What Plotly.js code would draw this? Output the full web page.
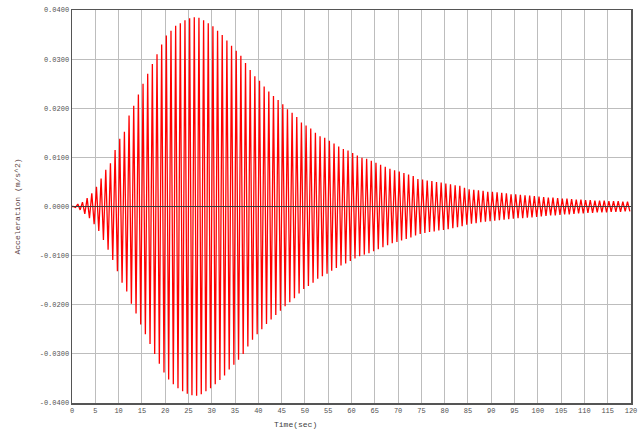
<!DOCTYPE html>
<html>
<head>
<meta charset="utf-8">
<script src="https://cdn.plot.ly/plotly-3.0.1.min.js"></script>
<style>html,body{margin:0;padding:0;background:#fff;}#chart{width:643px;height:430px;}</style>
</head>
<body>
<div id="chart"></div>
<script>
// Oscillation: one cycle per second (period ~1.0 s)
const periodSec = 1.0;
const peakPhase = 0.25;   // positive peak position within each cycle
const troughPhase = 0.75; // negative peak position within each cycle

// Positive peak of each cycle (m/s^2), cycle k = 0..119
const upperPeaks = [
  0.0000,0.0005,0.0009,0.0017,0.0027,0.0040,0.0057,0.0075,0.0088,0.0115,
  0.0138,0.0152,0.0185,0.0205,0.0228,0.0250,0.0270,0.0290,0.0310,0.0330,
  0.0348,0.0358,0.0368,0.0373,0.0379,0.0383,0.0385,0.0384,0.0379,0.0373,
  0.0367,0.0358,0.0349,0.0338,0.0327,0.0317,0.0307,0.0292,0.0278,0.0265,
  0.0256,0.0244,0.0234,0.0225,0.0217,0.0208,0.0198,0.0191,0.0182,0.0171,
  0.0165,0.0159,0.0150,0.0143,0.0140,0.0134,0.0128,0.0122,0.0117,0.0114,
  0.0109,0.0104,0.0099,0.0097,0.0093,0.0089,0.0085,0.0081,0.0077,0.0074,
  0.0071,0.0068,0.0065,0.0062,0.0056,0.0055,0.0053,0.0052,0.0050,0.0049,
  0.0047,0.0045,0.0043,0.0042,0.0038,0.0035,0.0034,0.0033,0.0032,0.0030,
  0.0030,0.0029,0.0028,0.0027,0.0025,0.0025,0.0024,0.0023,0.0022,0.0021,
  0.0020,0.0019,0.0018,0.0018,0.0017,0.0016,0.0016,0.0015,0.0014,0.0014,
  0.0013,0.0013,0.0012,0.0012,0.0012,0.0011,0.0011,0.0011,0.0010,0.0010
];

// Negative peak of each cycle (m/s^2), cycle k = 0..119
const lowerPeaks = [
  -0.0002,-0.0007,-0.0015,-0.0024,-0.0036,-0.0050,-0.0068,-0.0088,-0.0109,-0.0132,
  -0.0155,-0.0173,-0.0198,-0.0218,-0.0240,-0.0260,-0.0280,-0.0300,-0.0320,-0.0338,
  -0.0352,-0.0362,-0.0370,-0.0376,-0.0381,-0.0384,-0.0385,-0.0382,-0.0376,-0.0370,
  -0.0362,-0.0353,-0.0344,-0.0332,-0.0322,-0.0312,-0.0300,-0.0285,-0.0271,-0.0260,
  -0.0250,-0.0239,-0.0230,-0.0221,-0.0212,-0.0203,-0.0195,-0.0187,-0.0177,-0.0168,
  -0.0162,-0.0155,-0.0147,-0.0142,-0.0137,-0.0131,-0.0125,-0.0120,-0.0116,-0.0111,
  -0.0106,-0.0101,-0.0098,-0.0095,-0.0091,-0.0087,-0.0083,-0.0079,-0.0075,-0.0072,
  -0.0069,-0.0066,-0.0063,-0.0059,-0.0056,-0.0054,-0.0052,-0.0051,-0.0049,-0.0048,
  -0.0046,-0.0044,-0.0042,-0.0040,-0.0037,-0.0035,-0.0034,-0.0032,-0.0031,-0.0030,
  -0.0029,-0.0028,-0.0027,-0.0026,-0.0025,-0.0024,-0.0024,-0.0023,-0.0022,-0.0021,
  -0.0020,-0.0019,-0.0018,-0.0018,-0.0017,-0.0016,-0.0016,-0.0015,-0.0014,-0.0014,
  -0.0013,-0.0013,-0.0012,-0.0012,-0.0012,-0.0011,-0.0011,-0.0011,-0.0010,-0.0010
];

const yTickVals = [-0.04,-0.03,-0.02,-0.01,0,0.01,0.02,0.03,0.04];
const yTickText = ["-0.0400","-0.0300","-0.0200","-0.0100","0.0000","0.0100","0.0200","0.0300","0.0400"];
const xTickVals = [0,5,10,15,20,25,30,35,40,45,50,55,60,65,70,75,80,85,90,95,100,105,110,115,120];
const xTickText = xTickVals.map(String);

const xs = [0], ys = [0];
for (let k = 0; k < upperPeaks.length; k++) {
  xs.push((k + peakPhase) * periodSec); ys.push(upperPeaks[k]);
  xs.push((k + troughPhase) * periodSec); ys.push(lowerPeaks[k]);
}

const tickFont = {family: 'Liberation Mono, DejaVu Sans Mono, monospace', size: 7, color: '#505050'};

const data = [{
  x: xs, y: ys, type: 'scatter', mode: 'lines',
  line: {color: '#ff0000', width: 1.3}, hoverinfo: 'skip'
}];

const layout = {
  width: 643, height: 430,
  margin: {l: 72, r: 12, t: 10, b: 27, pad: 0},
  paper_bgcolor: '#ffffff', plot_bgcolor: '#ffffff',
  showlegend: false,
  xaxis: {
    range: [0, 120], tickvals: xTickVals, ticktext: xTickText,
    showgrid: true, gridcolor: '#bdbdbd', gridwidth: 1,
    zeroline: false, showline: true, linecolor: '#555555', linewidth: 1.5, mirror: true,
    ticks: '', ticklen: 0, tickfont: tickFont
  },
  yaxis: {
    range: [-0.04, 0.04], tickvals: yTickVals, ticktext: yTickText,
    showgrid: true, gridcolor: '#bdbdbd', gridwidth: 1,
    zeroline: false, showline: true, linecolor: '#555555', linewidth: 1.5, mirror: true,
    ticks: '', ticklen: 0, tickfont: tickFont,
    title: {text: 'Acceleration (m/s^2)', font: {family: 'Liberation Mono, monospace', size: 8, color: '#5a4040'}, standoff: 18}
  },
  shapes: [{
    type: 'line', xref: 'paper', yref: 'y', x0: 0, x1: 1, y0: 0, y1: 0,
    line: {color: '#3a3a3a', width: 1}, layer: 'above'
  }],
  annotations: [{
    text: 'Time(sec)', xref: 'paper', yref: 'paper', x: 0.4, y: 0, yshift: -21,
    xanchor: 'center', yanchor: 'middle', showarrow: false,
    font: {family: 'Liberation Mono, monospace', size: 8, color: '#404040'}
  }]
};

Plotly.newPlot('chart', data, layout, {staticPlot: true, displayModeBar: false});
</script>
</body>
</html>
